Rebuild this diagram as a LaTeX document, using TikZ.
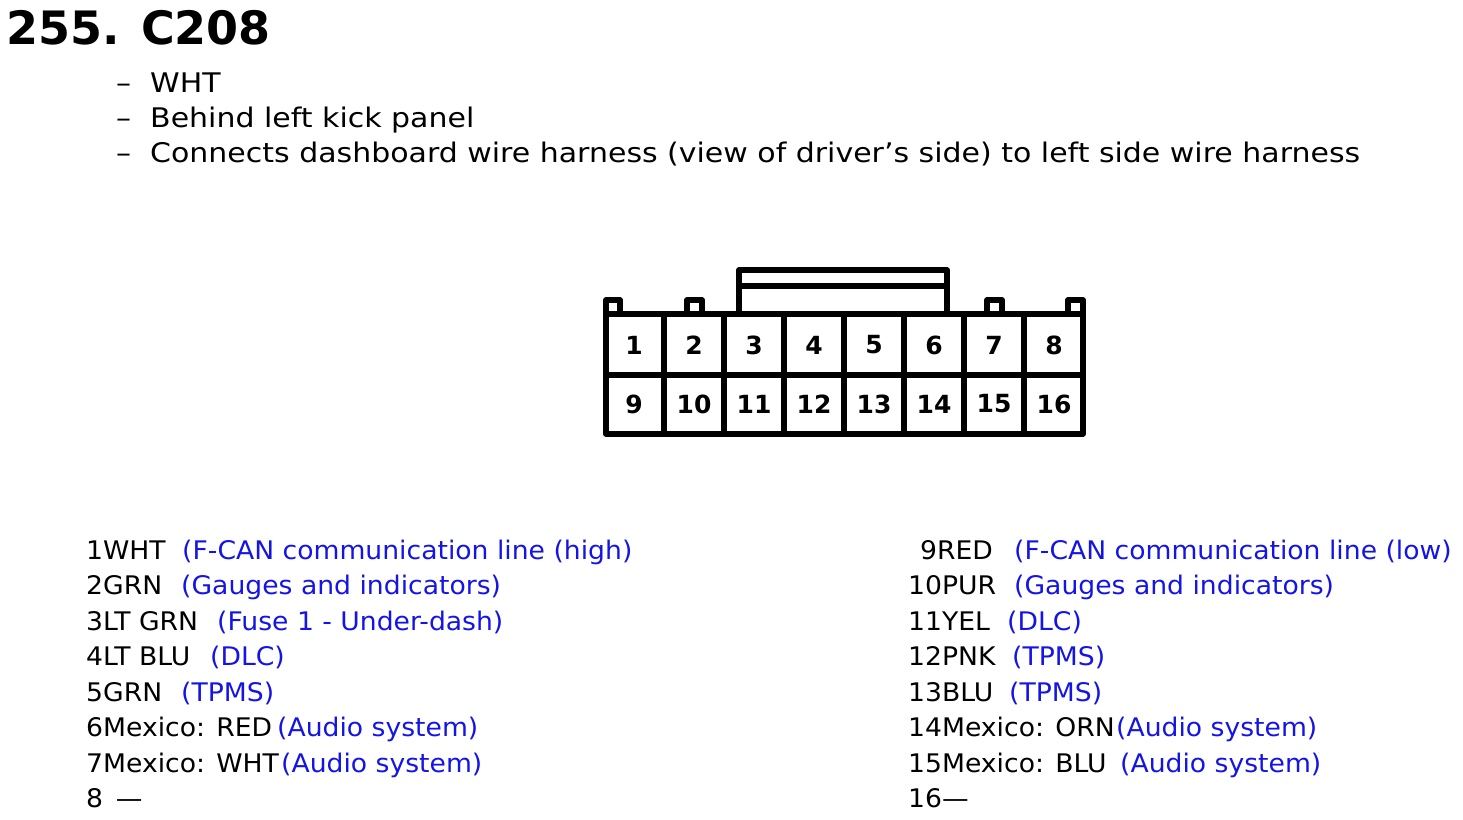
\documentclass[tikz,border=0pt]{standalone}
\usepackage{fontspec}
\setmainfont{DejaVu Sans}
\newfontfamily\listfont[FakeStretch=1.04]{DejaVu Sans}
\newfontfamily\descfont[FakeStretch=1.11]{DejaVu Sans}
\begin{document}
\begin{tikzpicture}[x=1pt,y=-1pt,
  txt/.style={anchor=base west,inner sep=0pt,font=\listfont\fontsize{25.6}{30}\selectfont},
  dsc/.style={anchor=base west,inner sep=0pt,font=\descfont\fontsize{27}{30}\selectfont},
  lnk/.style={txt,text={rgb,255:red,20;green,20;blue,230}},
  pin/.style={font=\bfseries\fontsize{25}{28}\selectfont,inner sep=0pt},
  ln/.style={line width=5.5pt,line join=round}]
\useasboundingbox (0,0) rectangle (1463,819);
\node[anchor=base west,inner sep=0pt,font=\bfseries\fontsize{46}{50}\selectfont] (title) at (6,44) {255. C208};
\node[dsc] (d1) at (116,92) {–\ \ WHT};
\node[dsc] (d2) at (116,127) {–\ \ Behind left kick panel};
\node[dsc] (d3) at (116,162) {–\ \ Connects dashboard wire harness (view of driver’s side) to left side wire harness};
% connector
\draw[ln] (606,314) -- (606,300) -- (620,300) -- (620,314) -- (687,314) -- (687,300) -- (702,300) -- (702,314) -- (739,314) -- (739,270) -- (947,270) -- (947,314) -- (987,314) -- (987,300) -- (1002,300) -- (1002,314) -- (1068,314) -- (1068,300) -- (1083,300) -- (1083,434) -- (606,434) -- cycle;
\draw[ln] (739,286) -- (947,286);
\draw[ln] (606,314) -- (1083,314);
\draw[ln] (606,375) -- (1083,375);
\foreach \i in {1,...,7}{\draw[ln] (604+60*\i,314) -- (604+60*\i,434);}
\foreach \i in {1,...,8}{
  \node[pin] (p\i) at (574+60*\i,345) {\i};
  \pgfmathtruncatemacro{\j}{\i+8}
  \node[pin] (p\j) at (574+60*\i,404) {\j};
}
% left list
\node[txt] (l1) at (86,559) {1WHT};  \node[lnk] (b1) at (182,559) {(F-CAN communication line (high)};
\node[txt] (l2) at (86,594) {2GRN};  \node[lnk] (b2) at (181,594) {(Gauges and indicators)};
\node[txt] (l3) at (86,630) {3LT GRN}; \node[lnk] (b3) at (217,630) {(Fuse 1 - Under-dash)};
\node[txt] (l4) at (86,665) {4LT BLU}; \node[lnk] (b4) at (210,665) {(DLC)};
\node[txt] (l5) at (86,701) {5GRN};  \node[lnk] (b5) at (181,701) {(TPMS)};
\node[txt] (l6) at (86,736) {6Mexico: RED}; \node[lnk] (b6) at (277,736) {(Audio system)};
\node[txt] (l7) at (86,772) {7Mexico: WHT}; \node[lnk] (b7) at (281,772) {(Audio system)};
\node[txt] (l8) at (86,807) {8 \,—};
% right list
\node[txt] (r9) at (920,559) {9RED};  \node[lnk] (c9) at (1014,559) {(F-CAN communication line (low)};
\node[txt] (r10) at (908,594) {10PUR}; \node[lnk] (c10) at (1014,594) {(Gauges and indicators)};
\node[txt] (r11) at (908,630) {11YEL}; \node[lnk] (c11) at (1007,630) {(DLC)};
\node[txt] (r12) at (908,665) {12PNK}; \node[lnk] (c12) at (1012,665) {(TPMS)};
\node[txt] (r13) at (908,701) {13BLU}; \node[lnk] (c13) at (1009,701) {(TPMS)};
\node[txt] (r14) at (908,736) {14Mexico: ORN}; \node[lnk] (c14) at (1116,736) {(Audio system)};
\node[txt] (r15) at (908,772) {15Mexico: BLU}; \node[lnk] (c15) at (1120,772) {(Audio system)};
\node[txt] (r16) at (908,807) {16—};
\end{tikzpicture}
\end{document}
